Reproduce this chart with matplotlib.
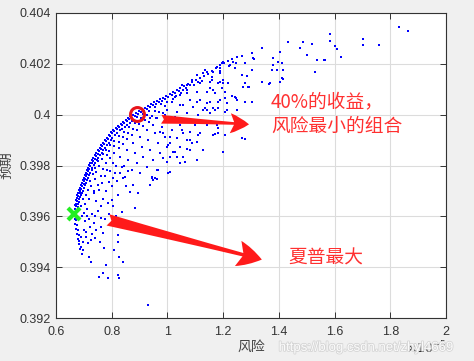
import matplotlib
matplotlib.use("Agg")
import matplotlib.pyplot as plt
import matplotlib.patheffects as pe
from matplotlib.ticker import FuncFormatter, MultipleLocator

plt.rcParams['font.family'] = ['Liberation Sans', 'Noto Sans CJK SC', 'DejaVu Sans']
CJK = ['Noto Sans CJK SC', 'DejaVu Sans']

# risk in units of 1e-5, expected return
edge_pts = [
    (0.665, 0.39610), (0.668, 0.39602), (0.672, 0.39615), (0.670, 0.39630), (0.676, 0.39622),
    (0.668, 0.39645), (0.673, 0.39640), (0.680, 0.39636),
    (0.672, 0.39665), (0.676, 0.39660), (0.684, 0.39655),
    (0.675, 0.39685), (0.680, 0.39680), (0.688, 0.39676),
    (0.683, 0.39704), (0.687, 0.39698), (0.694, 0.39692),
    (0.690, 0.39724), (0.694, 0.39718), (0.701, 0.39712),
    (0.697, 0.39744), (0.701, 0.39738), (0.709, 0.39733),
    (0.704, 0.39763), (0.709, 0.39757), (0.716, 0.39752),
    (0.711, 0.39783), (0.716, 0.39778), (0.724, 0.39772),
    (0.718, 0.39803), (0.723, 0.39797), (0.731, 0.39792),
    (0.729, 0.39822), (0.733, 0.39817), (0.741, 0.39811),
    (0.740, 0.39842), (0.744, 0.39836), (0.752, 0.39831),
    (0.751, 0.39862), (0.756, 0.39856), (0.764, 0.39851),
    (0.762, 0.39882), (0.767, 0.39876), (0.775, 0.39870),
    (0.776, 0.39901), (0.781, 0.39895), (0.789, 0.39890),
    (0.790, 0.39921), (0.795, 0.39915), (0.803, 0.39910),
    (0.805, 0.39941), (0.810, 0.39935), (0.818, 0.39929),
    (0.823, 0.39956), (0.828, 0.39950), (0.836, 0.39945),
    (0.841, 0.39972), (0.846, 0.39966), (0.854, 0.39961),
    (0.858, 0.39988), (0.864, 0.39982), (0.872, 0.39976),
    (0.876, 0.40000), (0.882, 0.39994), (0.890, 0.39990),
    (0.898, 0.40016), (0.904, 0.40010), (0.912, 0.40004),
    (0.920, 0.40027), (0.926, 0.40021), (0.934, 0.40016),
    (0.941, 0.40043), (0.947, 0.40037), (0.956, 0.40031),
    (0.963, 0.40055), (0.969, 0.40049), (0.978, 0.40043),
    (0.984, 0.40067), (0.991, 0.40061), (1.009, 0.40083), (1.016, 0.40077),
    (1.034, 0.40098), (1.041, 0.40092), (1.060, 0.40114), (1.068, 0.40106),
    (1.088, 0.40130), (1.117, 0.40146), (1.146, 0.40161), (1.174, 0.40185),
    (1.203, 0.40205), (1.232, 0.40220), (1.268, 0.40232), (1.304, 0.40244),
    (0.668, 0.39590), (0.672, 0.39585), (0.668, 0.39570), (0.674, 0.39565),
    (0.672, 0.39551), (0.678, 0.39545), (0.675, 0.39531), (0.681, 0.39525),
    (0.679, 0.39511), (0.684, 0.39505), (0.683, 0.39492), (0.686, 0.39472),
    (0.690, 0.39480), (0.693, 0.39452),
]

edge2_pts = [
    (0.667, 0.39618), (0.670, 0.39608), (0.674, 0.39598), (0.671, 0.39650), (0.678, 0.39648),
    (0.674, 0.39672), (0.681, 0.39668), (0.678, 0.39692), (0.685, 0.39690), (0.691, 0.39684),
    (0.686, 0.39710), (0.691, 0.39706), (0.698, 0.39700), (0.693, 0.39730), (0.699, 0.39727),
    (0.706, 0.39722), (0.700, 0.39750), (0.706, 0.39746), (0.713, 0.39742), (0.707, 0.39770),
    (0.713, 0.39767), (0.720, 0.39762), (0.715, 0.39790), (0.720, 0.39788), (0.728, 0.39782),
    (0.723, 0.39810), (0.728, 0.39808), (0.736, 0.39802), (0.734, 0.39830), (0.739, 0.39826),
    (0.747, 0.39822), (0.745, 0.39850), (0.750, 0.39846), (0.758, 0.39842), (0.757, 0.39870),
    (0.762, 0.39866), (0.770, 0.39861), (0.769, 0.39890), (0.773, 0.39886), (0.782, 0.39880),
    (0.783, 0.39910), (0.788, 0.39906), (0.797, 0.39900), (0.797, 0.39930), (0.802, 0.39926),
    (0.811, 0.39920), (0.814, 0.39948), (0.819, 0.39943), (0.829, 0.39938), (0.832, 0.39964),
    (0.838, 0.39959), (0.848, 0.39952), (0.850, 0.39980), (0.856, 0.39975), (0.866, 0.39968),
    (0.867, 0.39994), (0.874, 0.39988), (0.887, 0.40008), (0.893, 0.40002), (0.909, 0.40022),
    (0.915, 0.40016), (0.930, 0.40035), (0.937, 0.40029), (0.952, 0.40049), (0.960, 0.40041),
    (0.974, 0.40061), (0.981, 0.40054), (0.996, 0.40074), (1.003, 0.40068), (1.021, 0.40090),
    (1.028, 0.40084), (1.047, 0.40106), (1.055, 0.40098), (1.074, 0.40122), (1.081, 0.40115),
    (1.102, 0.40138), (1.110, 0.40130), (1.131, 0.40154), (1.160, 0.40172), (1.188, 0.40195),
    (1.217, 0.40212), (1.250, 0.40226),
]

inner_pts = [
    (0.690, 0.39640), (0.700, 0.39615), (0.695, 0.39600), (0.705, 0.39650), (0.712, 0.39630),
    (0.698, 0.39670), (0.708, 0.39685), (0.720, 0.39670), (0.715, 0.39705), (0.725, 0.39720),
    (0.735, 0.39700), (0.722, 0.39740), (0.740, 0.39745), (0.750, 0.39725), (0.732, 0.39765),
    (0.745, 0.39775), (0.760, 0.39760), (0.740, 0.39790), (0.755, 0.39800), (0.770, 0.39785),
    (0.752, 0.39818), (0.765, 0.39825), (0.780, 0.39810), (0.768, 0.39845), (0.782, 0.39840),
    (0.795, 0.39830), (0.780, 0.39862), (0.792, 0.39858), (0.808, 0.39850), (0.795, 0.39880),
    (0.810, 0.39876), (0.825, 0.39868), (0.810, 0.39898), (0.826, 0.39893), (0.840, 0.39885),
    (0.825, 0.39915), (0.840, 0.39912), (0.856, 0.39905), (0.843, 0.39932), (0.858, 0.39928),
    (0.872, 0.39920), (0.862, 0.39950), (0.878, 0.39945), (0.892, 0.39938), (0.883, 0.39968),
    (0.898, 0.39962), (0.912, 0.39955), (0.905, 0.39985), (0.920, 0.39980), (0.935, 0.39972),
    (0.928, 0.40000), (0.944, 0.39995), (0.958, 0.39988), (0.955, 0.40015), (0.970, 0.40010),
    (0.985, 0.40005), (0.990, 0.40035), (1.000, 0.40050), (1.020, 0.40060), (1.030, 0.40072),
    (1.050, 0.40085), (1.070, 0.40098), (1.095, 0.40115), (1.125, 0.40132), (1.160, 0.40150),
    (1.190, 0.40170), (1.220, 0.40190),
    (0.705, 0.39580), (0.712, 0.39600), (0.720, 0.39590), (0.730, 0.39610), (0.740, 0.39600),
    (0.722, 0.39560), (0.735, 0.39575), (0.750, 0.39620), (0.760, 0.39640), (0.745, 0.39660),
    (0.770, 0.39670), (0.735, 0.39690), (0.755, 0.39705), (0.780, 0.39700), (0.765, 0.39730),
    (0.790, 0.39735), (0.800, 0.39720), (0.775, 0.39760), (0.805, 0.39750), (0.820, 0.39740),
    (0.795, 0.39780), (0.830, 0.39770), (0.840, 0.39750), (0.850, 0.39720), (0.815, 0.39800),
    (0.845, 0.39800), (0.860, 0.39780), (0.700, 0.39545), (0.708, 0.39520), (0.690, 0.39520),
    (0.697, 0.39500), (0.715, 0.39495), (0.730, 0.39530), (0.745, 0.39545), (0.760, 0.39560),
    (0.740, 0.39515), (0.758, 0.39500), (0.775, 0.39590), (0.790, 0.39610), (0.805, 0.39640),
    (0.815, 0.39600),
]

cloud_pts = [
    (1.189, 0.40196), (1.164, 0.40169), (1.135, 0.40177), (1.106, 0.40157), (1.088, 0.40138),
    (1.070, 0.40118), (1.052, 0.40118), (1.117, 0.40126), (1.153, 0.40130), (1.182, 0.40126),
    (1.200, 0.40126), (1.142, 0.40090), (1.171, 0.40086), (1.207, 0.40090), (1.106, 0.40090),
    (1.070, 0.40086), (1.045, 0.40079), (1.027, 0.40071), (1.016, 0.40051), (1.081, 0.40059),
    (1.117, 0.40059), (1.189, 0.40059), (1.214, 0.40047), (1.056, 0.40039), (1.092, 0.40031),
    (1.128, 0.40020), (1.171, 0.40020), (1.207, 0.40012), (0.998, 0.40020), (1.034, 0.40012),
    (0.991, 0.40000), (0.963, 0.39988), (0.937, 0.39988), (1.016, 0.39980), (1.056, 0.39972),
    (1.099, 0.39972), (1.142, 0.39968), (1.178, 0.39960), (0.948, 0.39960), (0.980, 0.39953),
    (1.016, 0.39941), (1.052, 0.39941), (1.081, 0.39933), (1.164, 0.39921), (1.207, 0.39921),
    (0.927, 0.39941), (0.955, 0.39929), (0.991, 0.39913), (1.034, 0.39909), (1.070, 0.39901),
    (1.106, 0.39893), (0.902, 0.39913), (0.930, 0.39901), (0.966, 0.39889), (1.002, 0.39882),
    (1.045, 0.39874), (1.081, 0.39862), (1.128, 0.39862), (0.876, 0.39889), (0.909, 0.39874),
    (0.937, 0.39862), (0.973, 0.39850), (1.009, 0.39834), (1.056, 0.39834), (1.106, 0.39822),
    (0.855, 0.39862), (0.884, 0.39850), (0.912, 0.39834), (0.948, 0.39822), (1.045, 0.39811),
    (0.830, 0.39834), (0.858, 0.39822), (0.891, 0.39811), (0.927, 0.39795), (0.966, 0.39783),
    (1.009, 0.39775), (0.805, 0.39811), (0.837, 0.39795), (0.873, 0.39783), (0.902, 0.39771),
    (0.945, 0.39756), (0.783, 0.39783), (0.812, 0.39771), (0.848, 0.39756),
    (0.884, 0.39633), (0.837, 0.39617), (0.894, 0.39692), (0.866, 0.39696), (0.944, 0.39751),
    (0.937, 0.39724), (0.955, 0.39751), (0.876, 0.39724), (0.823, 0.39685), (0.787, 0.39653),
    (0.801, 0.39665),
    (1.063, 0.39815), (1.034, 0.39834), (1.027, 0.39854), (1.081, 0.39901), (1.088, 0.39889),
    (1.070, 0.39866), (1.182, 0.39929), (1.171, 0.39925), (1.117, 0.39929), (1.110, 0.39921),
    (1.056, 0.39929), (1.045, 0.39960), (1.099, 0.39960), (1.142, 0.39960), (1.182, 0.39949),
    (1.153, 0.40008), (1.110, 0.40000), (1.135, 0.40027), (1.106, 0.40051), (1.045, 0.40039),
    (1.070, 0.40008), (1.009, 0.39889), (0.998, 0.39874), (1.020, 0.39854), (0.984, 0.39830),
    (0.963, 0.39783), (0.998, 0.39815), (0.963, 0.39748), (1.002, 0.39771), (0.948, 0.39744),
    (1.009, 0.39992), (1.027, 0.39992), (0.973, 0.39933), (0.984, 0.39929), (1.009, 0.39913),
    (1.199, 0.39854), (1.268, 0.39909), (1.279, 0.39905),
]

outer_pts = [
    (1.831, 0.40346), (1.864, 0.40331), (1.702, 0.40299), (1.702, 0.40276), (1.759, 0.40276),
    (1.584, 0.40319), (1.584, 0.40291), (1.602, 0.40272), (1.609, 0.40260), (1.623, 0.40228),
    (1.562, 0.40217), (1.530, 0.40169), (1.537, 0.40217), (1.566, 0.40217), (1.433, 0.40287),
    (1.487, 0.40287), (1.519, 0.40280), (1.476, 0.40264), (1.501, 0.40236), (1.339, 0.40264),
    (1.304, 0.40244), (1.307, 0.40224), (1.404, 0.40248), (1.397, 0.40209), (1.379, 0.40224),
    (1.411, 0.40205), (1.375, 0.40177), (1.393, 0.40177), (1.415, 0.40177), (1.379, 0.40197),
    (1.279, 0.40205), (1.246, 0.40205), (1.235, 0.40209), (1.225, 0.40197), (1.200, 0.40209),
    (1.196, 0.40205), (1.178, 0.40189), (1.164, 0.40169), (1.142, 0.40169), (1.128, 0.40165),
    (1.189, 0.40185), (1.189, 0.40165), (1.243, 0.40185), (1.268, 0.40157), (1.279, 0.40126),
    (1.339, 0.40130), (1.368, 0.40126), (1.411, 0.40146), (1.404, 0.40130), (1.189, 0.40130),
    (1.200, 0.40138), (1.160, 0.40138), (1.153, 0.40106), (1.164, 0.40098), (1.196, 0.40106),
    (1.217, 0.40126), (1.271, 0.40110), (1.289, 0.40110), (1.243, 0.40071), (1.250, 0.40059),
    (1.207, 0.40067), (1.182, 0.40051), (1.153, 0.40051), (1.142, 0.40047), (1.164, 0.40027),
    (1.214, 0.40020), (1.250, 0.40020), (1.304, 0.40051), (1.142, 0.40020), (1.182, 0.40027),
    (1.286, 0.40153), (1.304, 0.40177), (1.365, 0.40122), (1.415, 0.40142), (1.293, 0.40110),
    (1.232, 0.40075), (1.246, 0.40067), (1.279, 0.40051), (1.311, 0.40220),
]

low_pts = [
    (0.762, 0.39594), (0.769, 0.39535), (0.823, 0.39527), (0.823, 0.39499), (0.726, 0.39507),
    (0.708, 0.39539), (0.697, 0.39468), (0.718, 0.39440), (0.726, 0.39420), (0.772, 0.39476),
    (0.808, 0.39468), (0.826, 0.39440), (0.779, 0.39409), (0.840, 0.39420), (0.769, 0.39377),
    (0.754, 0.39361), (0.787, 0.39357), (0.823, 0.39369), (0.826, 0.39357), (0.930, 0.39251),
]

min_risk_40 = (0.891, 0.40003)   # red circle
max_sharpe = (0.665, 0.39610)    # green cross

fig = plt.figure(figsize=(4.74, 3.61), dpi=100, facecolor='#f0f0f0')
ax = fig.add_axes([0.118, 0.119, 0.823, 0.845])
ax.set_facecolor('white')

all_pts = edge_pts + edge2_pts + inner_pts + cloud_pts + outer_pts + low_pts
xs = [p[0] for p in all_pts]
ys = [p[1] for p in all_pts]
ax.plot(xs, ys, 's', color='#0000ff', markersize=2.0, markeredgewidth=0, zorder=3)

ax.plot(*min_risk_40, 'o', mfc='none', mec='#e8141c', mew=2.2, markersize=10, zorder=5)
ax.plot(*max_sharpe, 'x', color='#22ee22', mew=3, markersize=8, zorder=5)

arrow1 = dict(arrowstyle='fancy,head_length=0.75,head_width=0.8,tail_width=0.35',
              fc='#ff1a1a', ec='none', shrinkA=0, shrinkB=0, mutation_scale=18)
arrow2 = dict(arrowstyle='fancy,head_length=0.8,head_width=0.85,tail_width=0.38',
              fc='#ff1a1a', ec='none', shrinkA=0, shrinkB=0, mutation_scale=22)
ax.annotate('', xy=(1.293, 0.39962), xytext=(0.978, 0.39982), arrowprops=arrow1, zorder=4)
ax.annotate('', xy=(1.339, 0.39430), xytext=(0.787, 0.39586), arrowprops=arrow2, zorder=4)

ax.text(1.372, 0.40003, '40%的收益，\n风险最小的组合', color='#ff3030', fontsize=13.5,
        family=CJK, va='center', ha='left', linespacing=1.25)
ax.text(1.435, 0.39437, '夏普最大', color='#ff3030', fontsize=13.5, family=CJK,
        va='center', ha='left')

ax.set_xlim(0.6, 2.0)
ax.set_ylim(0.392, 0.404)
ax.xaxis.set_major_locator(MultipleLocator(0.2))
ax.yaxis.set_major_locator(MultipleLocator(0.002))
ax.xaxis.set_major_formatter(FuncFormatter(lambda v, _: f"{v:g}"))
ax.yaxis.set_major_formatter(FuncFormatter(lambda v, _: f"{round(v, 4):g}"))
ax.grid(True, color='#dcdcdc', linewidth=0.8)
ax.set_axisbelow(True)
ax.tick_params(direction='in', top=True, right=True, length=4, width=0.7,
               colors='#333333', labelsize=9)
ax.tick_params(axis='x', pad=6)
ax.tick_params(axis='y', pad=4)
for s in ax.spines.values():
    s.set_color('#333333')
    s.set_linewidth(0.8)

ax.set_xlabel('风险', family=CJK, fontsize=10, color='#444444', labelpad=1)
ax.set_ylabel('预期', family=CJK, fontsize=10, color='#444444', labelpad=4)

fig.text(0.943, 0.022, r'$\times10^{-5}$', ha='right', va='baseline', fontsize=9, color='#333333')
fig.text(0.588, 0.028, 'https://blog.csdn.net/zhyl4669', fontsize=9.5, color='white', alpha=0.9,
         path_effects=[pe.withStroke(linewidth=1.2, foreground='#d2d2d2')])

fig.savefig('out.png', dpi=100, facecolor=fig.get_facecolor())
